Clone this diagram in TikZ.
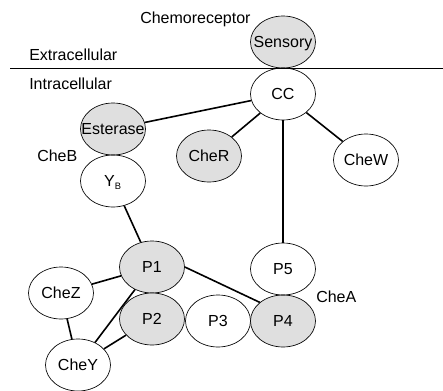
\documentclass[tikz,border=0pt]{standalone}
\usepackage{fontspec}
\setmainfont{Liberation Sans}
\usepackage{tikz}
\usetikzlibrary{shapes.geometric}
\newcommand{\zw}[1]{\makebox[0pt]{#1}}
\tikzset{
  prot/.style={draw, ellipse, line width=0.5pt, minimum width=48.75pt,
    minimum height=39pt, inner sep=0pt, text height=8.6pt, text depth=0pt,
    font=\fontsize{12}{14}\selectfont},
  dom/.style={prot, fill=gray!25},
  lbl/.style={anchor=west, inner sep=0pt, text height=8.6pt, text depth=0pt,
    font=\fontsize{12}{14}\selectfont},
  link/.style={line width=1.2pt}
}

\begin{document}
\begin{tikzpicture}[x=0.75pt, y=-0.75pt]
\useasboundingbox (0,0) rectangle (443,390);
% membrane
\node[lbl] (chemo) at (140,18) {Chemoreceptor};
\node[lbl] (extra) at (29,55) {Extracellular};
\node[lbl] (intra) at (29,84) {Intracellular};
\coordinate (mleft) at (10,68);
\coordinate (mright) at (443,68);
\draw[line width=0.5pt] (mleft) -- (mright);
% proteins
\node[dom]  (sensory)  at (283,42)  {\zw{Sensory}};
\node[prot] (cc)       at (283,94)  {\zw{CC}};
\node[dom]  (esterase) at (113,129) {\zw{Esterase}};
\node[prot] (yb)       at (113,181) {\zw{Y\textsubscript{\fontsize{7}{8}\selectfont B}}};
\node[dom]  (cher)     at (209,156) {\zw{CheR}};
\node[prot] (chew)     at (366,160) {\zw{CheW}};
\node[dom]  (p1)       at (152,267) {\zw{P1}};
\node[dom]  (p2)       at (152,319) {\zw{P2}};
\node[prot] (p3)       at (218,321) {\zw{P3}};
\node[dom]  (p4)       at (283,321) {\zw{P4}};
\node[prot] (p5)       at (283,269) {\zw{P5}};
\node[prot] (chez)     at (61,293)  {\zw{CheZ}};
\node[prot] (chey)     at (78,365)  {\zw{CheY}};
\node[lbl]  (cheb)     at (37,156)  {CheB};
\node[lbl]  (chea)     at (316,297) {CheA};
% links
\foreach \a/\b in {cc/esterase, cc/cher, cc/chew, cc/p5, yb/p1,
                   p1/chez, p1/chey, p2/chey, chez/chey}
{
  \draw[link] (\a) to (\b);
}
\draw[link] (p1.east) to (p4.north west);
\end{tikzpicture}
\end{document}
